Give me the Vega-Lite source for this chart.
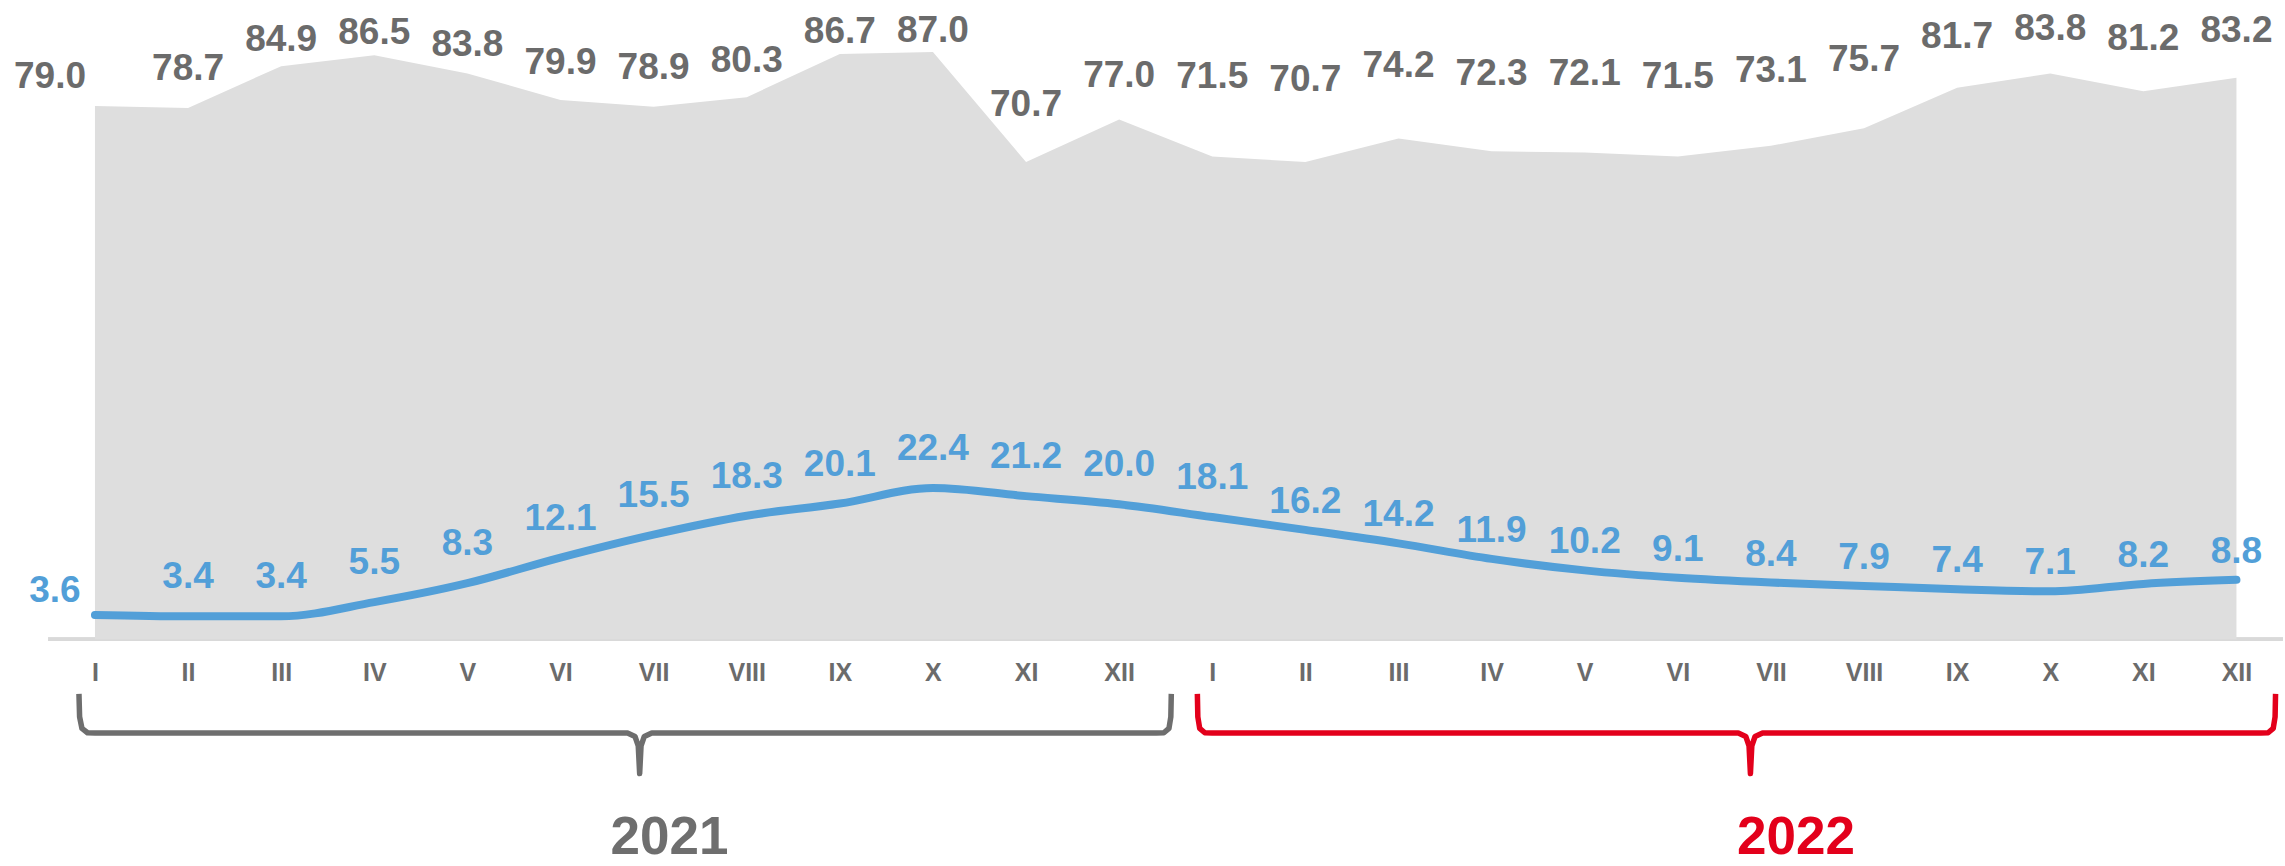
{
  "$schema": "https://vega.github.io/schema/vega-lite/v6.json",
  "width": 2285,
  "height": 866,
  "padding": 0,
  "autosize": {"type": "fit", "contains": "padding"},
  "background": "white",
  "config": {"view": {"stroke": null}, "font": "Liberation Sans"},
  "resolve": {"scale": {"y": "independent"}},
  "datasets": {
    "months": [
      {"i": 0, "year": "2021", "gray": 79.0, "blue": 3.6},
      {"i": 1, "year": "2021", "gray": 78.7, "blue": 3.4},
      {"i": 2, "year": "2021", "gray": 84.9, "blue": 3.4},
      {"i": 3, "year": "2021", "gray": 86.5, "blue": 5.5},
      {"i": 4, "year": "2021", "gray": 83.8, "blue": 8.3},
      {"i": 5, "year": "2021", "gray": 79.9, "blue": 12.1},
      {"i": 6, "year": "2021", "gray": 78.9, "blue": 15.5},
      {"i": 7, "year": "2021", "gray": 80.3, "blue": 18.3},
      {"i": 8, "year": "2021", "gray": 86.7, "blue": 20.1},
      {"i": 9, "year": "2021", "gray": 87.0, "blue": 22.4},
      {"i": 10, "year": "2021", "gray": 70.7, "blue": 21.2},
      {"i": 11, "year": "2021", "gray": 77.0, "blue": 20.0},
      {"i": 12, "year": "2022", "gray": 71.5, "blue": 18.1},
      {"i": 13, "year": "2022", "gray": 70.7, "blue": 16.2},
      {"i": 14, "year": "2022", "gray": 74.2, "blue": 14.2},
      {"i": 15, "year": "2022", "gray": 72.3, "blue": 11.9},
      {"i": 16, "year": "2022", "gray": 72.1, "blue": 10.2},
      {"i": 17, "year": "2022", "gray": 71.5, "blue": 9.1},
      {"i": 18, "year": "2022", "gray": 73.1, "blue": 8.4},
      {"i": 19, "year": "2022", "gray": 75.7, "blue": 7.9},
      {"i": 20, "year": "2022", "gray": 81.7, "blue": 7.4},
      {"i": 21, "year": "2022", "gray": 83.8, "blue": 7.1},
      {"i": 22, "year": "2022", "gray": 81.2, "blue": 8.2},
      {"i": 23, "year": "2022", "gray": 83.2, "blue": 8.8}
    ],
    "braces": [
      {"year": "2021", "k": 0, "bx": -0.172, "by": -8.1},
      {"year": "2021", "k": 1, "bx": -0.165, "by": -11.5},
      {"year": "2021", "k": 2, "bx": -0.14, "by": -13.2},
      {"year": "2021", "k": 3, "bx": -0.08, "by": -13.85},
      {"year": "2021", "k": 4, "bx": 0.0, "by": -13.9},
      {"year": "2021", "k": 5, "bx": 5.72, "by": -13.9},
      {"year": "2021", "k": 6, "bx": 5.80, "by": -14.4},
      {"year": "2021", "k": 7, "bx": 5.835, "by": -15.8},
      {"year": "2021", "k": 8, "bx": 5.85, "by": -19.9},
      {"year": "2021", "k": 9, "bx": 5.865, "by": -15.8},
      {"year": "2021", "k": 10, "bx": 5.90, "by": -14.4},
      {"year": "2021", "k": 11, "bx": 5.98, "by": -13.9},
      {"year": "2021", "k": 12, "bx": 11.40, "by": -13.9},
      {"year": "2021", "k": 13, "bx": 11.48, "by": -13.85},
      {"year": "2021", "k": 14, "bx": 11.535, "by": -13.2},
      {"year": "2021", "k": 15, "bx": 11.555, "by": -11.5},
      {"year": "2021", "k": 16, "bx": 11.56, "by": -8.1},
      {"year": "2022", "k": 0, "bx": 11.84, "by": -8.1},
      {"year": "2022", "k": 1, "bx": 11.845, "by": -11.5},
      {"year": "2022", "k": 2, "bx": 11.865, "by": -13.2},
      {"year": "2022", "k": 3, "bx": 11.92, "by": -13.85},
      {"year": "2022", "k": 4, "bx": 12.0, "by": -13.9},
      {"year": "2022", "k": 5, "bx": 17.65, "by": -13.9},
      {"year": "2022", "k": 6, "bx": 17.73, "by": -14.4},
      {"year": "2022", "k": 7, "bx": 17.765, "by": -15.8},
      {"year": "2022", "k": 8, "bx": 17.78, "by": -19.9},
      {"year": "2022", "k": 9, "bx": 17.795, "by": -15.8},
      {"year": "2022", "k": 10, "bx": 17.83, "by": -14.4},
      {"year": "2022", "k": 11, "bx": 17.91, "by": -13.9},
      {"year": "2022", "k": 12, "bx": 23.26, "by": -13.9},
      {"year": "2022", "k": 13, "bx": 23.34, "by": -13.85},
      {"year": "2022", "k": 14, "bx": 23.395, "by": -13.2},
      {"year": "2022", "k": 15, "bx": 23.415, "by": -11.5},
      {"year": "2022", "k": 16, "bx": 23.42, "by": -8.1}
    ],
    "years": [
      {"year": "2021", "lx": 6.17, "ly": -29.5},
      {"year": "2022", "lx": 18.27, "ly": -29.5}
    ]
  },
  "layer": [
    {
      "data": {"name": "months"},
      "mark": {"type": "rule", "color": "#D9D9D9", "strokeWidth": 3},
      "encoding": {
        "x": {"datum": -0.5, "type": "quantitative", "scale": {"domain": [-1.02, 23.5], "nice": false, "zero": false},
          "axis": {"values": [0,1,2,3,4,5,6,7,8,9,10,11,12,13,14,15,16,17,18,19,20,21,22,23],
            "labelExpr": "['I','II','III','IV','V','VI','VII','VIII','IX','X','XI','XII'][datum.value % 12]",
            "domain": false, "ticks": false, "grid": false, "title": null,
            "labelFont": "Liberation Sans", "labelFontSize": 25, "labelFontWeight": "bold", "labelColor": "#6B6B6B",
            "labelPadding": 0, "labelBaseline": "top", "offset": -202, "labelOverlap": false, "labelFlush": false}},
        "x2": {"datum": 23.5},
        "y": {"datum": 0, "type": "quantitative", "scale": {"domain": [-33.0, 94.7], "nice": false, "zero": false}, "axis": null}
      }
    },
    {
      "data": {"name": "months"},
      "mark": {"type": "area", "color": "#DEDEDE", "opacity": 1},
      "encoding": {
        "x": {"field": "i", "type": "quantitative"},
        "y": {"field": "gray", "type": "quantitative", "scale": {"domain": [-33.0, 94.7], "nice": false, "zero": false}, "axis": null},
        "y2": {"datum": 0}
      }
    },
    {
      "data": {"name": "months"},
      "mark": {"type": "line", "color": "#529FD8", "strokeWidth": 8, "strokeCap": "round", "strokeJoin": "round", "interpolate": "monotone"},
      "encoding": {
        "x": {"field": "i", "type": "quantitative"},
        "y": {"field": "blue", "type": "quantitative", "scale": {"domain": [-33.0, 94.7], "nice": false, "zero": false}, "axis": null}
      }
    },
    {
      "data": {"name": "months"},
      "transform": [{"filter": "datum.i > 0 && datum.year == '2021'"}],
      "mark": {"type": "text", "font": "Liberation Sans", "fontWeight": "bold", "fontSize": 37, "color": "#6B6B6B", "baseline": "middle", "align": "center"},
      "encoding": {
        "x": {"field": "i", "type": "quantitative"},
        "y": {"field": "gray", "type": "quantitative", "scale": {"domain": [-95.1, 93.76], "nice": false, "zero": false}, "axis": null},
        "text": {"field": "gray", "type": "quantitative", "format": ".1f"}
      }
    },
    {
      "data": {"name": "months"},
      "transform": [{"filter": "datum.year == '2022'"}],
      "mark": {"type": "text", "font": "Liberation Sans", "fontWeight": "bold", "fontSize": 37, "color": "#6B6B6B", "baseline": "middle", "align": "center"},
      "encoding": {
        "x": {"field": "i", "type": "quantitative"},
        "y": {"field": "gray", "type": "quantitative", "scale": {"domain": [-130.5, 91.25], "nice": false, "zero": false}, "axis": null},
        "text": {"field": "gray", "type": "quantitative", "format": ".1f"}
      }
    },
    {
      "data": {"name": "months"},
      "transform": [{"filter": "datum.i == 0"}],
      "mark": {"type": "text", "font": "Liberation Sans", "fontWeight": "bold", "fontSize": 37, "color": "#6B6B6B", "baseline": "alphabetic", "align": "center", "dx": -45, "dy": -18},
      "encoding": {
        "x": {"field": "i", "type": "quantitative"},
        "y": {"field": "gray", "type": "quantitative", "scale": {"domain": [-33.0, 94.7], "nice": false, "zero": false}, "axis": null},
        "text": {"field": "gray", "type": "quantitative", "format": ".1f"}
      }
    },
    {
      "data": {"name": "months"},
      "transform": [{"filter": "datum.i > 0 && datum.i <= 12"}],
      "mark": {"type": "text", "font": "Liberation Sans", "fontWeight": "bold", "fontSize": 37, "color": "#529FD8", "baseline": "alphabetic", "align": "center", "dy": -28},
      "encoding": {
        "x": {"field": "i", "type": "quantitative"},
        "y": {"field": "blue", "type": "quantitative", "scale": {"domain": [-33.0, 94.7], "nice": false, "zero": false}, "axis": null},
        "text": {"field": "blue", "type": "quantitative", "format": ".1f"}
      }
    },
    {
      "data": {"name": "months"},
      "transform": [{"filter": "datum.i > 12"}],
      "mark": {"type": "text", "font": "Liberation Sans", "fontWeight": "bold", "fontSize": 37, "color": "#529FD8", "baseline": "alphabetic", "align": "center", "dy": -17},
      "encoding": {
        "x": {"field": "i", "type": "quantitative"},
        "y": {"field": "blue", "type": "quantitative", "scale": {"domain": [-33.0, 94.7], "nice": false, "zero": false}, "axis": null},
        "text": {"field": "blue", "type": "quantitative", "format": ".1f"}
      }
    },
    {
      "data": {"name": "months"},
      "transform": [{"filter": "datum.i == 0"}],
      "mark": {"type": "text", "font": "Liberation Sans", "fontWeight": "bold", "fontSize": 37, "color": "#529FD8", "baseline": "alphabetic", "align": "center", "dx": -40, "dy": -13},
      "encoding": {
        "x": {"field": "i", "type": "quantitative"},
        "y": {"field": "blue", "type": "quantitative", "scale": {"domain": [-33.0, 94.7], "nice": false, "zero": false}, "axis": null},
        "text": {"field": "blue", "type": "quantitative", "format": ".1f"}
      }
    },
    {
      "data": {"name": "braces"},
      "mark": {"type": "line", "strokeWidth": 5.5, "strokeJoin": "round", "interpolate": "linear"},
      "encoding": {
        "x": {"field": "bx", "type": "quantitative"},
        "y": {"field": "by", "type": "quantitative", "scale": {"domain": [-33.0, 94.7], "nice": false, "zero": false}, "axis": null},
        "order": {"field": "k", "type": "quantitative"},
        "detail": {"field": "year"},
        "color": {"field": "year", "type": "nominal", "scale": {"domain": ["2021", "2022"], "range": ["#6E6E6E", "#E3001B"]}, "legend": null}
      }
    },
    {
      "data": {"name": "years"},
      "mark": {"type": "text", "font": "Liberation Sans", "fontWeight": "bold", "fontSize": 53, "baseline": "middle", "align": "center"},
      "encoding": {
        "x": {"field": "lx", "type": "quantitative"},
        "y": {"field": "ly", "type": "quantitative", "scale": {"domain": [-33.0, 94.7], "nice": false, "zero": false}, "axis": null},
        "text": {"field": "year"},
        "color": {"field": "year", "type": "nominal", "legend": null}
      }
    }
  ]
}
